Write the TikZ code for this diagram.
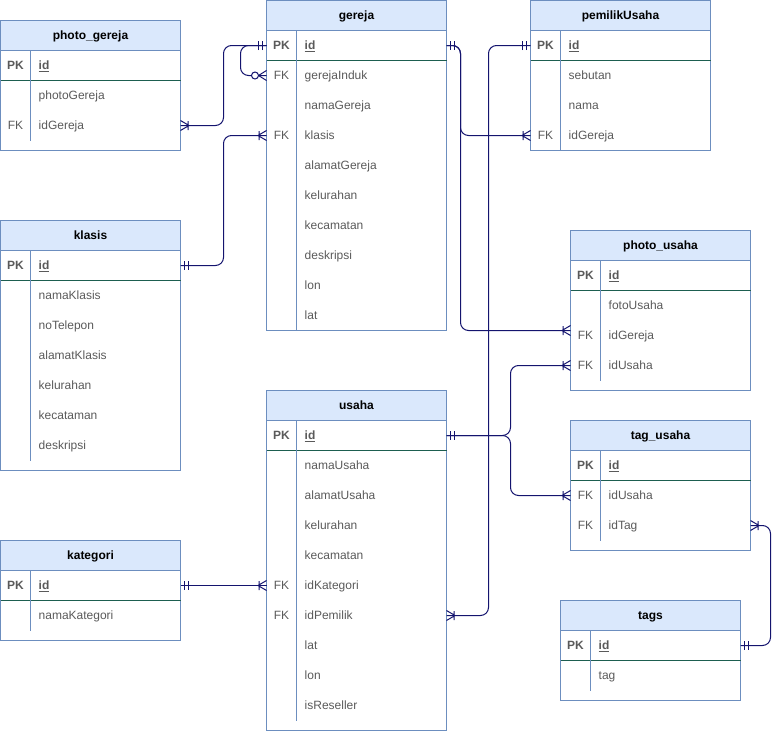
\documentclass[tikz,border=0pt]{standalone}
\usepackage{fontspec}
\setmainfont{Liberation Sans}
\usetikzlibrary{calc}
\definecolor{hdrfill}{HTML}{DAE8FC}
\definecolor{bordc}{HTML}{6C8EBF}
\definecolor{pksepc}{HTML}{1D5E50}
\definecolor{edgec}{HTML}{14146E}
\definecolor{txtc}{HTML}{5A5A5A}
\newcommand{\erfont}{\fontsize{12}{14}\selectfont}
\tikzset{
 hdr/.style={draw=bordc, fill=hdrfill, line width=1pt, anchor=north west, minimum width=180pt, minimum height=30pt, inner sep=0pt, outer sep=0pt, font=\erfont\bfseries, text=black, text height=8.6pt, text depth=0pt},
 rowbox/.style={anchor=north west, minimum width=180pt, minimum height=30pt, inner sep=0pt, outer sep=0pt},
 keytxt/.style={text=txtc, inner sep=0pt, font=\erfont, text height=8.6pt, text depth=0pt},
 fldtxt/.style={text=txtc, anchor=west, inner sep=0pt, font=\erfont, text height=8.6pt, text depth=0pt},
 tblborder/.style={draw=bordc, line width=1pt},
 pksep/.style={draw=pksepc, line width=1pt},
 divider/.style={draw=bordc, line width=1pt},
 erline/.style={draw=edgec, line width=1pt, rounded corners=8pt},
 ermark/.style={draw=edgec, line width=1pt},
 mandone/.pic={\draw[ermark] (4,-4.5)--(4,4.5) (8,-4.5)--(8,4.5);},
 onemany/.pic={\draw[ermark] (0,-5)--(8.5,0)--(0,5) (7.5,-4.5)--(7.5,4.5);},
 zeromany/.pic={\draw[ermark] (0,-5)--(8,0)--(0,5); \draw[ermark,fill=white] (11.5,0) circle[radius=3.5pt];},
}
% #1 name, #2 x, #3 y, #4 title, #5 height, #6 rows
\newcommand{\ertable}[6]{%
 \node[hdr] (#1) at (#2,#3) {#4};
 \draw[tblborder] (#2,#3) rectangle ++(180,#5);
 \node[rowbox] (#1-0) at (#2,#3+30) {};
 \node[keytxt,font=\erfont\bfseries] at (#2+15,#3+45) {PK};
 \node[fldtxt,font=\erfont\bfseries] at (#2+38,#3+45) {\underline{id}};
 \foreach \k/\f [count=\i] in {#6} {
   \node[rowbox] (#1-\i) at (#2,#3+30+30*\i) {};
   \node[keytxt] at (#2+15,#3+45+30*\i) {\k};
   \node[fldtxt] at (#2+38,#3+45+30*\i) {\f};
   \xdef\lastrow{\i}
 }
 \draw[pksep] (#2,#3+60) -- ++(180,0);
 \draw[divider] (#2+30,#3+30) -- (#2+30,#3+60+30*\lastrow);
}
\begin{document}
\begin{tikzpicture}[x=1pt,y=-1pt,shift={(0.5,0.5)}]
\useasboundingbox (-0.5,-0.5) rectangle (779.5,730.5);
\ertable{pg}{0}{20}{photo\_gereja}{130}{{}/photoGereja,FK/idGereja}
\ertable{g}{266}{0}{gereja}{330}{FK/gerejaInduk,{}/namaGereja,FK/klasis,{}/alamatGereja,{}/kelurahan,{}/kecamatan,{}/deskripsi,{}/lon,{}/lat}
\ertable{pm}{530}{0}{pemilikUsaha}{150}{{}/sebutan,{}/nama,FK/idGereja}
\ertable{k}{0}{220}{klasis}{250}{{}/namaKlasis,{}/noTelepon,{}/alamatKlasis,{}/kelurahan,{}/kecataman,{}/deskripsi}
\ertable{pu}{570}{230}{photo\_usaha}{160}{{}/fotoUsaha,FK/idGereja,FK/idUsaha}
\ertable{u}{266}{390}{usaha}{340}{{}/namaUsaha,{}/alamatUsaha,{}/kelurahan,{}/kecamatan,FK/idKategori,FK/idPemilik,{}/lat,{}/lon,{}/isReseller}
\ertable{tu}{570}{420}{tag\_usaha}{130}{FK/idUsaha,FK/idTag}
\ertable{ka}{0}{540}{kategori}{100}{{}/namaKategori}
\ertable{tg}{560}{600}{tags}{100}{{}/tag}
% connectors
\draw[erline] (pg-2.east) -- ++(43,0) |- (g-0.west);
\draw[erline] (g-0.west) -- ++(-26,0) |- (g-1.west);
\draw[erline] (k-0.east) -- ++(43,0) |- (g-3.west);
\draw[erline] (g-0.east) -- ++(14,0) |- (pm-3.west);
\draw[erline] (g-0.east) -- ++(14,0) |- ([yshift=5pt]pu-2.west);
\draw[erline] (u-6.east) -- ++(42,0) |- (pm-0.west);
\draw[erline] (u-0.east) -- ++(64,0) |- (pu-3.west);
\draw[erline] (u-0.east) -- ++(64,0) |- (tu-1.west);
\draw[erline] (ka-0.east) -- (u-5.west);
\draw[erline] (tu-2.east) -- ++(20,0) |- (tg-0.east);
% end markers
\pic at (pg-2.east) {onemany};
\pic[rotate=180] at (g-0.west) {mandone};
\pic[rotate=180] at (g-1.west) {zeromany};
\pic at (k-0.east) {mandone};
\pic[rotate=180] at (g-3.west) {onemany};
\pic at (g-0.east) {mandone};
\pic[rotate=180] at (pm-3.west) {onemany};
\pic[rotate=180] at ([yshift=5pt]pu-2.west) {onemany};
\pic at (u-6.east) {onemany};
\pic[rotate=180] at (pm-0.west) {mandone};
\pic at (u-0.east) {mandone};
\pic[rotate=180] at (pu-3.west) {onemany};
\pic[rotate=180] at (tu-1.west) {onemany};
\pic at (ka-0.east) {mandone};
\pic[rotate=180] at (u-5.west) {onemany};
\pic at (tu-2.east) {onemany};
\pic at (tg-0.east) {mandone};
\end{tikzpicture}
\end{document}
